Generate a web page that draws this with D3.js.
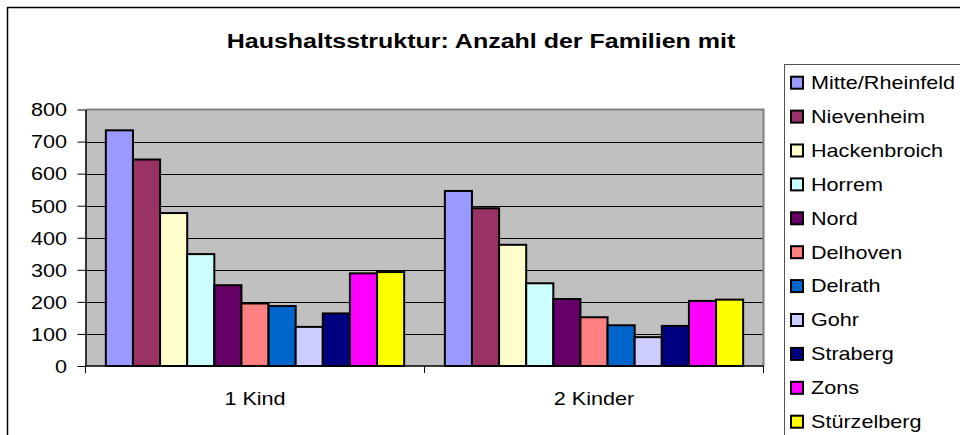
<!DOCTYPE html>
<html><head><meta charset="utf-8">
<script src="https://cdn.jsdelivr.net/npm/d3@7/dist/d3.min.js"></script>
<style>body{margin:0;background:#fff;}svg{display:block;}</style>
</head><body><svg id="c" width="960" height="435"></svg>
<script>
const title = "Haushaltsstruktur: Anzahl der Familien mit";
const categories = ["1 Kind", "2 Kinder"];
const series = ["Mitte/Rheinfeld","Nievenheim","Hackenbroich","Horrem","Nord","Delhoven","Delrath","Gohr","Straberg","Zons","Stürzelberg"];
const colors = ["#9999FF","#993366","#FFFFCC","#CCFFFF","#660066","#FF8080","#0066CC","#CCCCFF","#000080","#FF00FF","#FFFF00"];
const values1Kind = [735, 644, 477, 349, 252, 195, 187, 122, 164, 289, 293];
const values2Kinder = [546, 492, 378, 258, 209, 152, 127, 90, 125, 203, 207];
const yTicks = [0,100,200,300,400,500,600,700,800];

const valuesByCat = [values1Kind, values2Kinder];
const FONT = "Arial, 'Liberation Sans', sans-serif";
const SX = 1.2;

const svg = d3.select("#c");
// outer chart border
svg.append("rect").attr("x",7.5).attr("y",7.5).attr("width",970).attr("height",440)
  .attr("fill","#fff").attr("stroke","#000").attr("stroke-width",1.5);

// title
svg.append("text").attr("transform",`translate(481,47.5) scale(1.25,1)`)
  .attr("text-anchor","middle").attr("font-family",FONT).attr("font-weight","bold")
  .attr("font-size",20).attr("fill","#000").text(title);

const L = 85.5, R = 763.5, T = 109.5, B = 366;
const y = d3.scaleLinear().domain([0,800]).range([B,T]);
const x0 = d3.scaleBand().domain(categories).range([L,R]).paddingInner(0).paddingOuter(0);
const x1 = d3.scaleBand().domain(series).range([0,x0.bandwidth()]).paddingInner(0).paddingOuter(0.75);

// plot background
svg.append("rect").attr("x",L).attr("y",T).attr("width",R-L).attr("height",B-T).attr("fill","#C0C0C0");
// gridlines
svg.append("g").selectAll("line").data(yTicks.filter(d=>d>0 && d<800)).join("line")
  .attr("x1",L).attr("x2",R).attr("y1",d=>Math.round(y(d))+0.5).attr("y2",d=>Math.round(y(d))+0.5)
  .attr("stroke","#000").attr("stroke-width",1);
// plot border top/right
svg.append("path").attr("d",`M${L},${T}H${R}V${B}`).attr("fill","none").attr("stroke","#808080").attr("stroke-width",2);

// bars
const g = svg.append("g");
categories.forEach((c,ci)=>{
  g.append("g").selectAll("rect").data(valuesByCat[ci]).join("rect")
    .attr("x",(d,i)=>x0(c)+x1(series[i]))
    .attr("y",d=>y(d))
    .attr("width",x1.bandwidth())
    .attr("height",d=>B-y(d))
    .attr("fill",(d,i)=>colors[i])
    .attr("stroke","#000").attr("stroke-width",2);
});

// y axis
const yAxis = d3.axisLeft(y).tickValues(yTicks).tickSize(8).tickSizeOuter(0).tickFormat(d3.format("d"));
const ya = svg.append("g").attr("transform",`translate(${L},0)`).call(yAxis);
ya.select(".domain").attr("stroke","#000").attr("stroke-width",1.5);
ya.selectAll(".tick line").attr("stroke","#000");
ya.selectAll(".tick text").attr("x",null).attr("dy",null)
  .attr("font-family",FONT).attr("font-size",18).attr("fill","#000")
  .attr("text-anchor","end").attr("dominant-baseline","central")
  .attr("transform",`translate(-18.5,0) scale(${SX},1)`);

// x axis
const xa = svg.append("g").attr("transform",`translate(0,${B})`);
xa.append("line").attr("x1",L).attr("x2",R).attr("y1",0).attr("y2",0).attr("stroke","#000").attr("stroke-width",1.5);
const xTickPos = categories.map(c=>x0(c)).concat([R]);
xa.selectAll("line.t").data(xTickPos).join("line").attr("class","t")
  .attr("x1",d=>d).attr("x2",d=>d).attr("y1",0).attr("y2",7).attr("stroke","#000");
xa.selectAll("text").data(categories).join("text")
  .attr("transform",d=>`translate(${x0(d)+x0.bandwidth()/2},39) scale(${SX},1)`)
  .attr("text-anchor","middle").attr("font-family",FONT).attr("font-size",18).attr("fill","#000").text(d=>d);

// legend
svg.append("rect").attr("x",784.5).attr("y",64.5).attr("width",300).attr("height",400)
  .attr("fill","#fff").attr("stroke","#555").attr("stroke-width",1);
const leg = svg.append("g").selectAll("g").data(series).join("g")
  .attr("transform",(d,i)=>`translate(0,${82.7+i*33.9})`);
leg.append("rect").attr("x",791).attr("y",-6).attr("width",12).attr("height",12)
  .attr("fill",(d,i)=>colors[i]).attr("stroke","#000").attr("stroke-width",2);
leg.append("text").attr("transform",`translate(811,0) scale(${SX},1)`)
  .attr("dominant-baseline","central").attr("font-family",FONT).attr("font-size",18).attr("fill","#000").text(d=>d);
</script></body></html>
